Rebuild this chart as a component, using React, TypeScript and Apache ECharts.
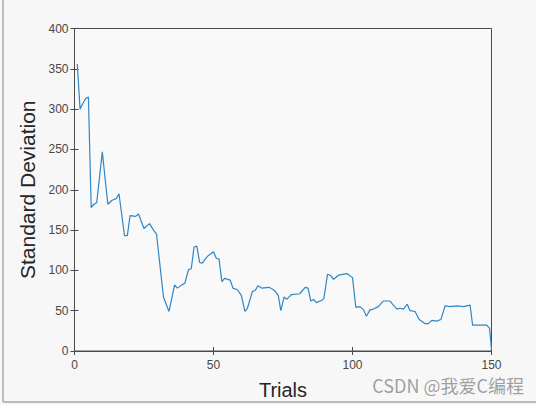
import React, { useEffect, useRef } from "react";
import * as echarts from "echarts";

const trials = [1, 2, 3, 4, 5, 6, 7, 8, 10, 12, 13.5, 15, 16, 18, 19, 20, 22, 23, 25, 27, 28.6, 29.5, 32, 34, 36, 37, 38.6, 39.7, 41, 42, 43, 44, 45, 46, 47, 48, 50, 51, 52, 53, 54, 56, 57, 58.6, 60, 61.3, 62.2, 64, 65, 66, 67.3, 70, 72, 73.3, 74.2, 75.4, 76.3, 78, 81, 83, 84, 85, 86, 87, 89, 89.7, 91, 92, 93.2, 95, 98, 100, 101.2, 102.7, 104, 105, 106.3, 107.5, 109.3, 111, 113.5, 114.7, 116, 117, 118.3, 119.7, 120.7, 122.5, 124, 126, 127.3, 128.5, 130.3, 131.8, 133.3, 135, 137.5, 140, 142.3, 143.2, 146, 148.3, 149.3, 150];
const stdDev = [356, 300, 307, 313, 315, 178, 182, 184, 247, 182, 187, 189, 195, 143, 143, 168, 167, 170, 152, 158, 149, 145, 67, 49, 82, 78, 82, 84, 101, 102, 129, 130, 110, 109, 114, 118, 123, 115, 114, 86, 90, 88, 78, 76, 69, 49, 53, 74, 75, 81, 78, 79, 75, 69, 50, 67, 64, 70, 71, 79, 78, 62, 64, 60, 63, 65, 95, 94, 89, 94, 96, 91, 54, 55, 51, 43, 51, 52, 55, 62, 62, 57, 52, 53, 52, 58, 50, 49, 39, 34, 34, 38, 37, 39, 56, 55, 56, 55, 57, 32, 32, 32, 28, 2];

const xTicks = [0, 50, 100, 150];
const yTicks = [0, 50, 100, 150, 200, 250, 300, 350, 400];

const xTitle = "Trials";
const yTitle = "Standard Deviation";
const watermark = "CSDN @我爱C编程";

export default function App() {
  const ref = useRef<HTMLDivElement>(null);
  useEffect(() => {
    document.body.style.margin = "0";
    const chart = echarts.init(ref.current!, null, { renderer: "svg" });
    const font = "Liberation Sans, Arial, sans-serif";
    const axisColor = "#4a4a4a";
    const labelColor = "#474747";
    const xStep = xTicks[1] - xTicks[0];
    const yStep = yTicks[1] - yTicks[0];
    chart.setOption({
      animation: false,
      backgroundColor: "#f7f7f7",
      grid: {
        left: 74.5,
        top: 28.5,
        width: 417,
        height: 324.5,
        show: true,
        backgroundColor: "#f9f9f9",
        borderColor: axisColor,
        borderWidth: 1,
      },
      xAxis: [
        {
          type: "value",
          min: xTicks[0],
          max: xTicks[xTicks.length - 1],
          interval: xStep,
          name: xTitle,
          nameLocation: "middle",
          nameGap: 29,
          nameTextStyle: { fontFamily: font, fontSize: 20, color: "#262626" },
          axisLine: { show: true, lineStyle: { color: axisColor, width: 1 } },
          axisTick: { show: true, inside: true, length: 4, lineStyle: { color: axisColor } },
          axisLabel: { fontFamily: font, fontSize: 12, color: labelColor, margin: 8 },
          splitLine: { show: false },
        },
        {
          type: "value",
          position: "top",
          min: xTicks[0],
          max: xTicks[xTicks.length - 1],
          interval: xStep,
          axisLine: { show: true, lineStyle: { color: axisColor, width: 1 } },
          axisTick: { show: true, inside: true, length: 4, lineStyle: { color: axisColor } },
          axisLabel: { show: false },
          splitLine: { show: false },
        },
      ],
      yAxis: [
        {
          type: "value",
          min: yTicks[0],
          max: yTicks[yTicks.length - 1],
          interval: yStep,
          name: yTitle,
          nameLocation: "middle",
          nameGap: 31,
          nameTextStyle: { fontFamily: font, fontSize: 21, color: "#262626" },
          axisLine: { show: true, lineStyle: { color: axisColor, width: 1 } },
          axisTick: { show: true, inside: true, length: 4, lineStyle: { color: axisColor } },
          axisLabel: { fontFamily: font, fontSize: 12, color: labelColor, margin: 6 },
          splitLine: { show: false },
        },
        {
          type: "value",
          position: "right",
          min: yTicks[0],
          max: yTicks[yTicks.length - 1],
          interval: yStep,
          axisLine: { show: true, lineStyle: { color: axisColor, width: 1 } },
          axisTick: { show: true, inside: true, length: 4, lineStyle: { color: axisColor } },
          axisLabel: { show: false },
          splitLine: { show: false },
        },
      ],
      series: [
        {
          type: "line",
          data: trials.map((t, i) => [t, stdDev[i]]),
          showSymbol: false,
          lineStyle: { color: "#2f86c6", width: 1.2 },
          itemStyle: { color: "#2f86c6" },
        },
      ],
      graphic: [
        { type: "line", shape: { x1: 3, y1: 0, x2: 3, y2: 402 }, style: { stroke: "#a8a8a8", lineWidth: 1.5 } },
        { type: "line", shape: { x1: 3, y1: 402, x2: 536, y2: 402 }, style: { stroke: "#a8a8a8", lineWidth: 1.5 } },
        {
          type: "text",
          right: 12,
          top: 376,
          style: { text: watermark, fontFamily: "Noto Sans CJK SC, sans-serif", fontSize: 18, fill: "rgba(120,120,120,0.7)" },
        },
      ],
    });
    return () => chart.dispose();
  }, []);
  return <div ref={ref} style={{ position: "absolute", left: 0, top: 0, width: 536, height: 405 }} />;
}
